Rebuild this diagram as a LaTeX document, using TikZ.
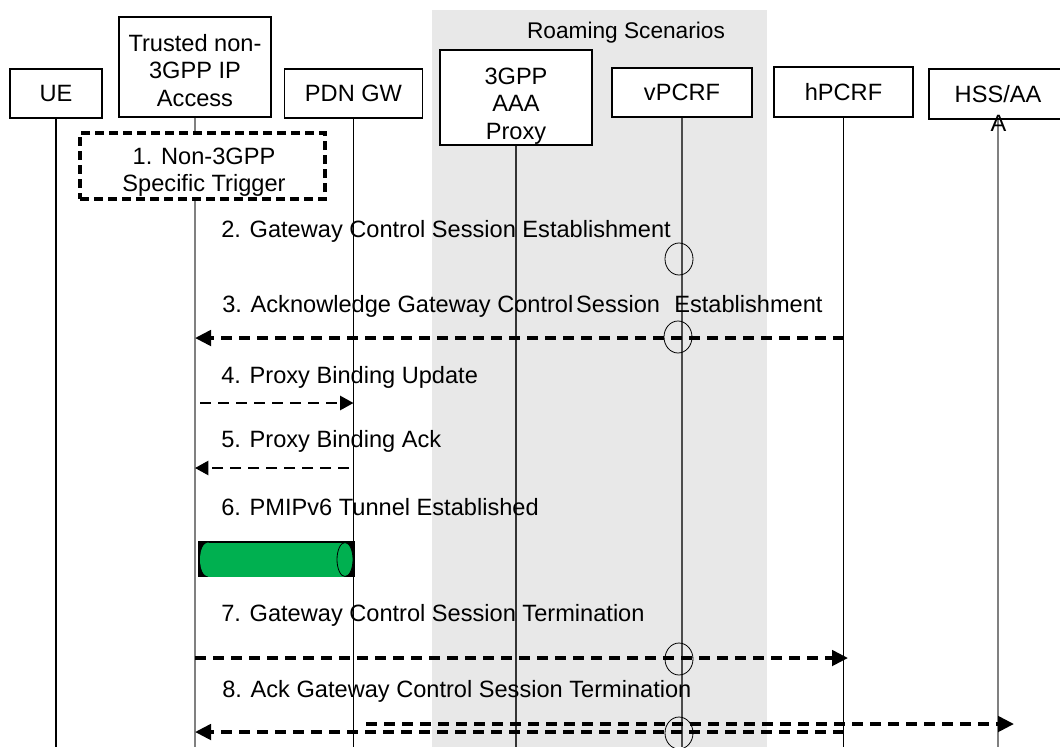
\documentclass[tikz,border=0pt]{standalone}
\usepackage{fontspec}
\setmainfont{Liberation Sans}
\usetikzlibrary{arrows.meta}
\definecolor{roam}{RGB}{232,232,232}
\definecolor{tgreen}{RGB}{0,176,80}
\begin{document}
\begin{tikzpicture}[x=0.75pt,y=-0.75pt,
  lbl/.style={font=\fontsize{17.7}{20.6}\selectfont, inner sep=0pt, align=center},
  entity/.style={draw, fill=white, line width=0.8pt, inner sep=0pt, align=center,
                 font=\fontsize{17.7}{20.6}\selectfont},
  life/.style={line width=0.8pt, draw=black},
  lifegray/.style={line width=0.8pt, draw=black!50},
  msglbl/.style={lbl, anchor=base west},
  thinmsg/.style={line width=1.8pt, dash pattern=on 8pt off 5.5pt,
                  -{Triangle[length=10pt,width=10.5pt]}},
  thickmsg/.style={line width=2.8pt, dash pattern=on 8.25pt off 5.25pt,
                   -{Triangle[length=12pt,width=11.5pt]}},
  ring/.style={line width=0.6pt},
  trigbox/.style={draw, fill=white, line width=2.8pt, dash pattern=on 6.5pt off 4pt, inner sep=0pt}
]
\useasboundingbox (0,0) rectangle (1060,747);
\clip (0,0) rectangle (1060,747);

% roaming area
\fill[roam] (432,10) rectangle (767,747);
\node[lbl, font=\fontsize{17}{20}\selectfont] (roamlbl) at (626,33) {Roaming Scenarios};

% entities
\node[entity, minimum width=69pt, minimum height=36.75pt] (ue) at (56,93.5) {UE};
\node[entity, minimum width=114pt, minimum height=75pt] (tr) at (195,67) {};
\node[lbl] (trtxt) at (195,70.5) {Trusted non-\\3GPP IP\\Access};
\node[entity, minimum width=103.5pt, minimum height=36.75pt] (pdn) at (353.5,93.5) {PDN GW};
\node[entity, minimum width=114pt, minimum height=71.25pt] (aaa) at (516,97.5) {};
\node[lbl] (aaatxt) at (516,106) {3GPP\\AAA\\Proxy};
\node[entity, minimum width=105pt, minimum height=36.75pt] (vp) at (682,92.5) {vPCRF};
\node[entity, minimum width=104.25pt, minimum height=37.5pt] (hp) at (843.5,92) {hPCRF};
\node[entity, minimum width=103.5pt, minimum height=37.5pt] (hss) at (998,94) {HSS/AA};

% lifelines
\draw[life] (ue.south) -- (ue.south |- 0,747);
\draw[lifegray] (tr.south) -- (tr.south |- 0,747);
\draw[life] (pdn.south) -- (pdn.south |- 0,747);
\draw[life, draw=black!80] (aaa.south) -- (aaa.south |- 0,747);
\draw[life, draw=black!70] (vp.south) -- (vp.south |- 0,747);
\draw[life] (hp.south) -- (hp.south |- 0,747);
\draw[lifegray] (hss.south) -- (hss.south |- 0,747);
\node[lbl] (hssA) at (998.5,123.5) {A};

% 1. trigger
\node[trigbox, minimum width=183.75pt, minimum height=49.5pt] (trig) at (202.5,166) {};
\node[lbl] (trigtxt) at (204,172) {1. Non-3GPP\\Specific Trigger};

% 2.
\node[msglbl] (m2) at (221,237) {2. Gateway Control Session Establishment};
\draw[ring] (679,259) ellipse [x radius=10.5pt, y radius=12pt];

% 3.
\node[msglbl] (m3) at (222,312) {3. Acknowledge Gateway Control\hspace{0.12em}Session\hspace{0.6em}Establishment};
\draw[thickmsg] (hp.south |- 0,338) -- (tr.south |- 0,338);
\draw[ring] (678,337) ellipse [x radius=10.5pt, y radius=12pt];

% 4.
\node[msglbl] (m4) at (221,383) {4. Proxy Binding Update};
\coordinate (m4s) at (200,403);
\draw[thinmsg] (m4s) -- (pdn.south |- 0,403);

% 5.
\node[msglbl] (m5) at (221,447) {5. Proxy Binding Ack};
\coordinate (m5s) at (349,468);
\draw[thinmsg] (m5s) -- (tr.south |- 0,468);

% 6.
\node[msglbl] (m6) at (221,515) {6. PMIPv6 Tunnel Established};
\fill[black] (198,541) rectangle (355,577);
\fill[tgreen] (208,542.5) rectangle (345,576.5);
\fill[tgreen] (208,559.5) ellipse [x radius=6pt, y radius=12.75pt];
\filldraw[fill=tgreen, draw=black, line width=0.6pt] (345,559.5) ellipse [x radius=6pt, y radius=12.75pt];

% 7.
\node[msglbl] (m7) at (221,621) {7. Gateway Control Session Termination};
\coordinate (m7e) at (848,658);
\draw[thickmsg] (tr.south |- 0,658) -- (m7e);
\draw[ring] (679,659) ellipse [x radius=10.5pt, y radius=12pt];

% 8.
\node[msglbl] (m8) at (222,697) {8. Ack Gateway Control Session Termination};
\coordinate (m8s) at (366,724);
\coordinate (m8e) at (1014,724);
\draw[thickmsg] (m8s) -- (m8e);
\draw[thickmsg] (hp.south |- 0,732) -- (tr.south |- 0,732);
\draw[ring] (679,733) ellipse [x radius=10.5pt, y radius=12pt];
\end{tikzpicture}
\end{document}
